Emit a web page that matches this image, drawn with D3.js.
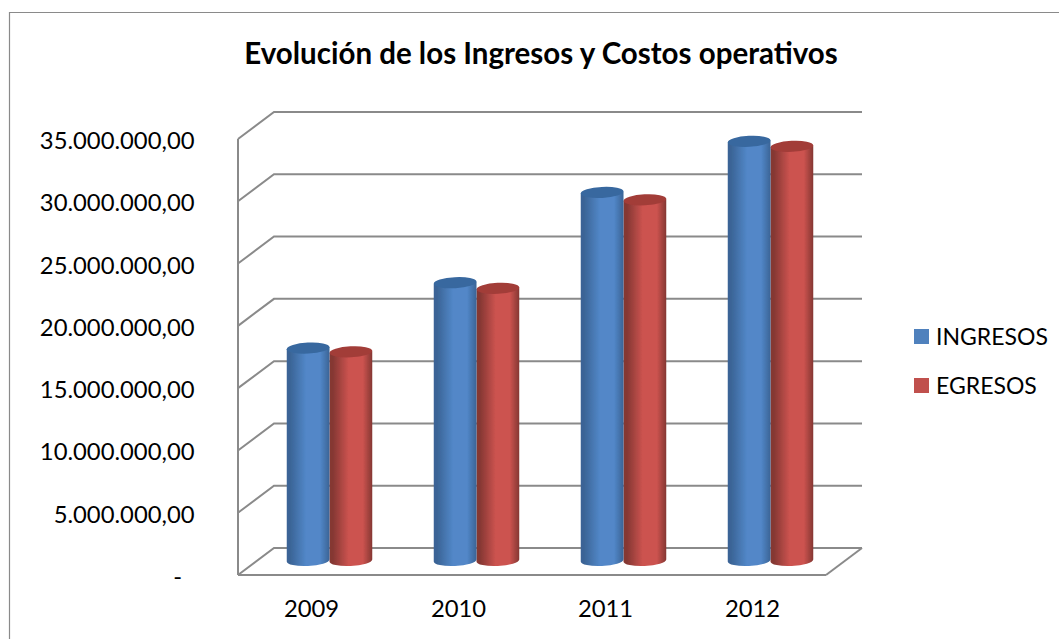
<!DOCTYPE html>
<html><head><meta charset="utf-8">
<script src="https://cdn.jsdelivr.net/npm/d3@7"></script>
<style>html,body{margin:0;background:#fff}svg{display:block}text{font-family:Lato,"Open Sans",sans-serif;fill:#000}</style>
</head><body><script>
const years = ["2009","2010","2011","2012"];
const seriesNames = ["INGRESOS","EGRESOS"];
const ingresos = [17050000,22300000,29550000,33650000];
const egresos = [16750000,21850000,28950000,33250000];
const yTickValues = [0,5000000,10000000,15000000,20000000,25000000,30000000,35000000];
const yTickLabels = ["-","5.000.000,00","10.000.000,00","15.000.000,00","20.000.000,00","25.000.000,00","30.000.000,00","35.000.000,00"];
const titleText = "Evolución de los Ingresos y Costos operativos";
const colors = {INGRESOS:["#3a6496","#5287c8"],EGRESOS:["#853733","#cc534f"]};
const capColors = {INGRESOS:"#38689f",EGRESOS:"#a23c39"};
const legendColors = {INGRESOS:"#4f81bd",EGRESOS:"#c0504d"};

const W=1059,H=639, dx=36, dy=-27;
const svg=d3.select("body").append("svg").attr("width",W).attr("height",H);
const defs=svg.append("defs");
seriesNames.forEach(n=>{
  const g=defs.append("linearGradient").attr("id","g"+n);
  [[0,colors[n][0]],[.08,colors[n][0]],[.45,colors[n][1]],[.78,colors[n][1]],[1,colors[n][0]]]
    .forEach(([o,c])=>g.append("stop").attr("offset",o).attr("stop-color",c));
});
const f=defs.append("filter").attr("id","soft").attr("x","-5%").attr("y","-5%").attr("width","110%").attr("height","110%");
f.append("feGaussianBlur").attr("stdDeviation",0.6);

// frame: only the top and left edges are visible in the picture
svg.append("path").attr("d",`M9.5,${H}V12.5H${W}`).attr("fill","none").attr("stroke","#8a8a8a").attr("stroke-width",1.2);

svg.append("text").attr("x",541).attr("y",63.5).attr("text-anchor","middle")
  .attr("font-size",29.5).attr("font-weight",700).text(titleText);

const y=d3.scaleLinear().domain([0,35000000]).range([575,139]);
const xFront=d3.scaleLinear().domain([0,1]).range([238,826]);
const band=d3.scaleBand().domain(years).range([xFront(0)+dx/2,xFront(1)+dx/2]);
const bandFront=d3.scaleBand().domain(years).range([xFront(0),xFront(1)]);
const inner=d3.scaleBand().domain(seriesNames).range([0,85.5]);
const groupOffset=(band.bandwidth()-inner.range()[1])/2;

const gridG=svg.append("g").attr("fill","none").attr("stroke","#8a8a8a").attr("stroke-width",2).attr("filter","url(#soft)");
yTickValues.forEach(v=>{
  gridG.append("polyline").attr("points",[
    [xFront(0),y(v)],[xFront(0)+dx,y(v)+dy],[xFront(1)+dx,y(v)+dy]
  ].join(" "));
});
gridG.append("line").attr("x1",xFront(0)).attr("x2",xFront(0)).attr("y1",y(35000000)).attr("y2",y(0));
gridG.append("line").attr("x1",xFront(0)).attr("x2",xFront(1)).attr("y1",y(0)).attr("y2",y(0));
gridG.append("line").attr("x1",xFront(1)).attr("x2",xFront(1)+dx).attr("y1",y(0)).attr("y2",y(0)+dy);

svg.append("g").selectAll("text").data(yTickValues).join("text")
  .attr("x",d=>d===0?182:194.5).attr("y",d=>y(d)+10).attr("text-anchor","end").attr("font-size",23.8)
  .text((d,i)=>yTickLabels[i]);
svg.append("g").selectAll("text").data(years).join("text")
  .attr("x",d=>bandFront(d)+bandFront.bandwidth()/2).attr("y",617).attr("text-anchor","middle").attr("font-size",23.8)
  .text(d=>d);

const rows=[{n:"INGRESOS",v:ingresos},{n:"EGRESOS",v:egresos}];
const barsG=svg.append("g").attr("filter","url(#soft)");
years.forEach((yr,i)=>rows.slice().reverse().forEach(r=>{
  const w=inner.bandwidth(), x0=band(yr)+groupOffset+inner(r.n), cx=x0+w/2;
  const yy=y(r.v[i])+dy/2, base=y(0)+dy/2, rx=w/2, ry=5.5;
  barsG.append("path").attr("fill",`url(#g${r.n})`)
    .attr("d",`M${x0},${yy}L${x0+w},${yy-2}L${x0+w},${base-2}A${rx},${ry} -3 0 1 ${x0},${base}Z`);
  barsG.append("ellipse").attr("cx",cx).attr("cy",yy-1).attr("rx",rx).attr("ry",ry)
    .attr("transform",`rotate(-3 ${cx} ${yy-1})`).attr("fill",capColors[r.n]);
}));

const lg=svg.append("g");
const ly=d3.scaleBand().domain(seriesNames).range([312,410]);
seriesNames.forEach(n=>{
  const c=ly(n)+ly.bandwidth()/2;
  lg.append("rect").attr("x",914).attr("y",c-7.5).attr("width",15).attr("height",15).attr("fill",legendColors[n]);
  lg.append("text").attr("x",936).attr("y",c+8.5).attr("font-size",23).text(n);
});
</script></body></html>
